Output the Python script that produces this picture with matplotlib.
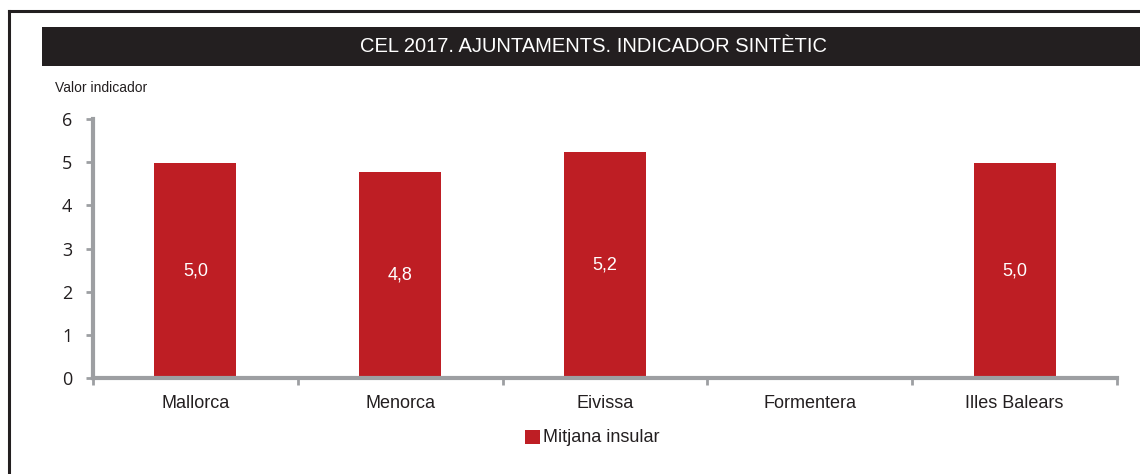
import numpy as np
import matplotlib
matplotlib.use("Agg")
import matplotlib.pyplot as plt
from matplotlib.lines import Line2D
from matplotlib.patches import Rectangle
from matplotlib import font_manager

categories = ["Mallorca", "Menorca", "Eivissa", "Formentera", "Illes Balears"]
values = [4.97, 4.77, 5.23, np.nan, 4.97]
labels = ["5,0", "4,8", "5,2", "", "5,0"]
yticks = [0, 1, 2, 3, 4, 5, 6]
title = "CEL 2017. AJUNTAMENTS. INDICADOR SINTÈTIC"
series_name = "Mitjana insular"
ylabel = "Valor indicador"

names = {f.name for f in font_manager.fontManager.ttflist}
narrow = "Liberation Sans Narrow" if "Liberation Sans Narrow" in names else "Liberation Sans"
plt.rcParams['font.family'] = [narrow, 'DejaVu Sans']

W, H = 1140, 474
fig = plt.figure(figsize=(W/100, H/100), dpi=100)

def fx(px): return px / W
def fy(py): return 1 - py / H

# outer border (left and top)
fig.add_artist(Line2D([fx(9), fx(9)], [fy(11), 0], color="#231f20", lw=2.2))
fig.add_artist(Line2D([fx(9), 1], [fy(11), fy(11)], color="#231f20", lw=2.2))

# title bar
fig.add_artist(Rectangle((fx(42), fy(66)), 1 - fx(42), fy(27) - fy(66),
                         facecolor="#231f20", edgecolor="none"))
fig.text(fx(593), fy(47), title, color="white", fontsize=14.5, ha="center", va="center")

red = "#be1e24"
grey = "#9d9fa2"

ax = fig.add_axes([fx(93), fy(378), fx(1117) - fx(93), fy(119) - fy(378)])
x = np.arange(len(categories))
bars = ax.bar(x, values, width=0.4, color=red, zorder=2)
for xi, v, lab in zip(x, values, labels):
    if lab and not np.isnan(v):
        ax.text(xi, v / 2, lab, ha="center", va="center", color="white", fontsize=13)

ax.set_xlim(-0.5, len(categories) - 0.5)
ax.set_ylim(0, 6)
ax.set_yticks(yticks)
ax.set_yticklabels([str(t) for t in yticks], fontfamily="Open Sans", fontsize=13, color="#231f20")
ax.set_xticks(x)
ax.set_xticklabels(categories, fontsize=13, color="#231f20")
ax.tick_params(axis="x", length=0, pad=12)
ax.set_xticks(np.arange(-0.5, len(categories) + 0.5, 1), minor=True)
ax.tick_params(axis="x", which="minor", length=5, width=2, color=grey, direction="out")
ax.tick_params(axis="y", length=5, width=2, color=grey, direction="out", pad=10)
for s in ["top", "right"]:
    ax.spines[s].set_visible(False)
for s in ["left", "bottom"]:
    ax.spines[s].set_color(grey)
    ax.spines[s].set_linewidth(3)

fig.text(fx(55), fy(88), ylabel, fontsize=10, ha="left", va="center", color="#231f20")

# legend
fig.add_artist(Rectangle((fx(525), fy(444)), fx(15), fy(430) - fy(444), facecolor=red, edgecolor="none"))
fig.text(fx(543), fy(437), series_name, fontsize=13, ha="left", va="center", color="#231f20")

fig.savefig("out.png", dpi=100, facecolor="white")
